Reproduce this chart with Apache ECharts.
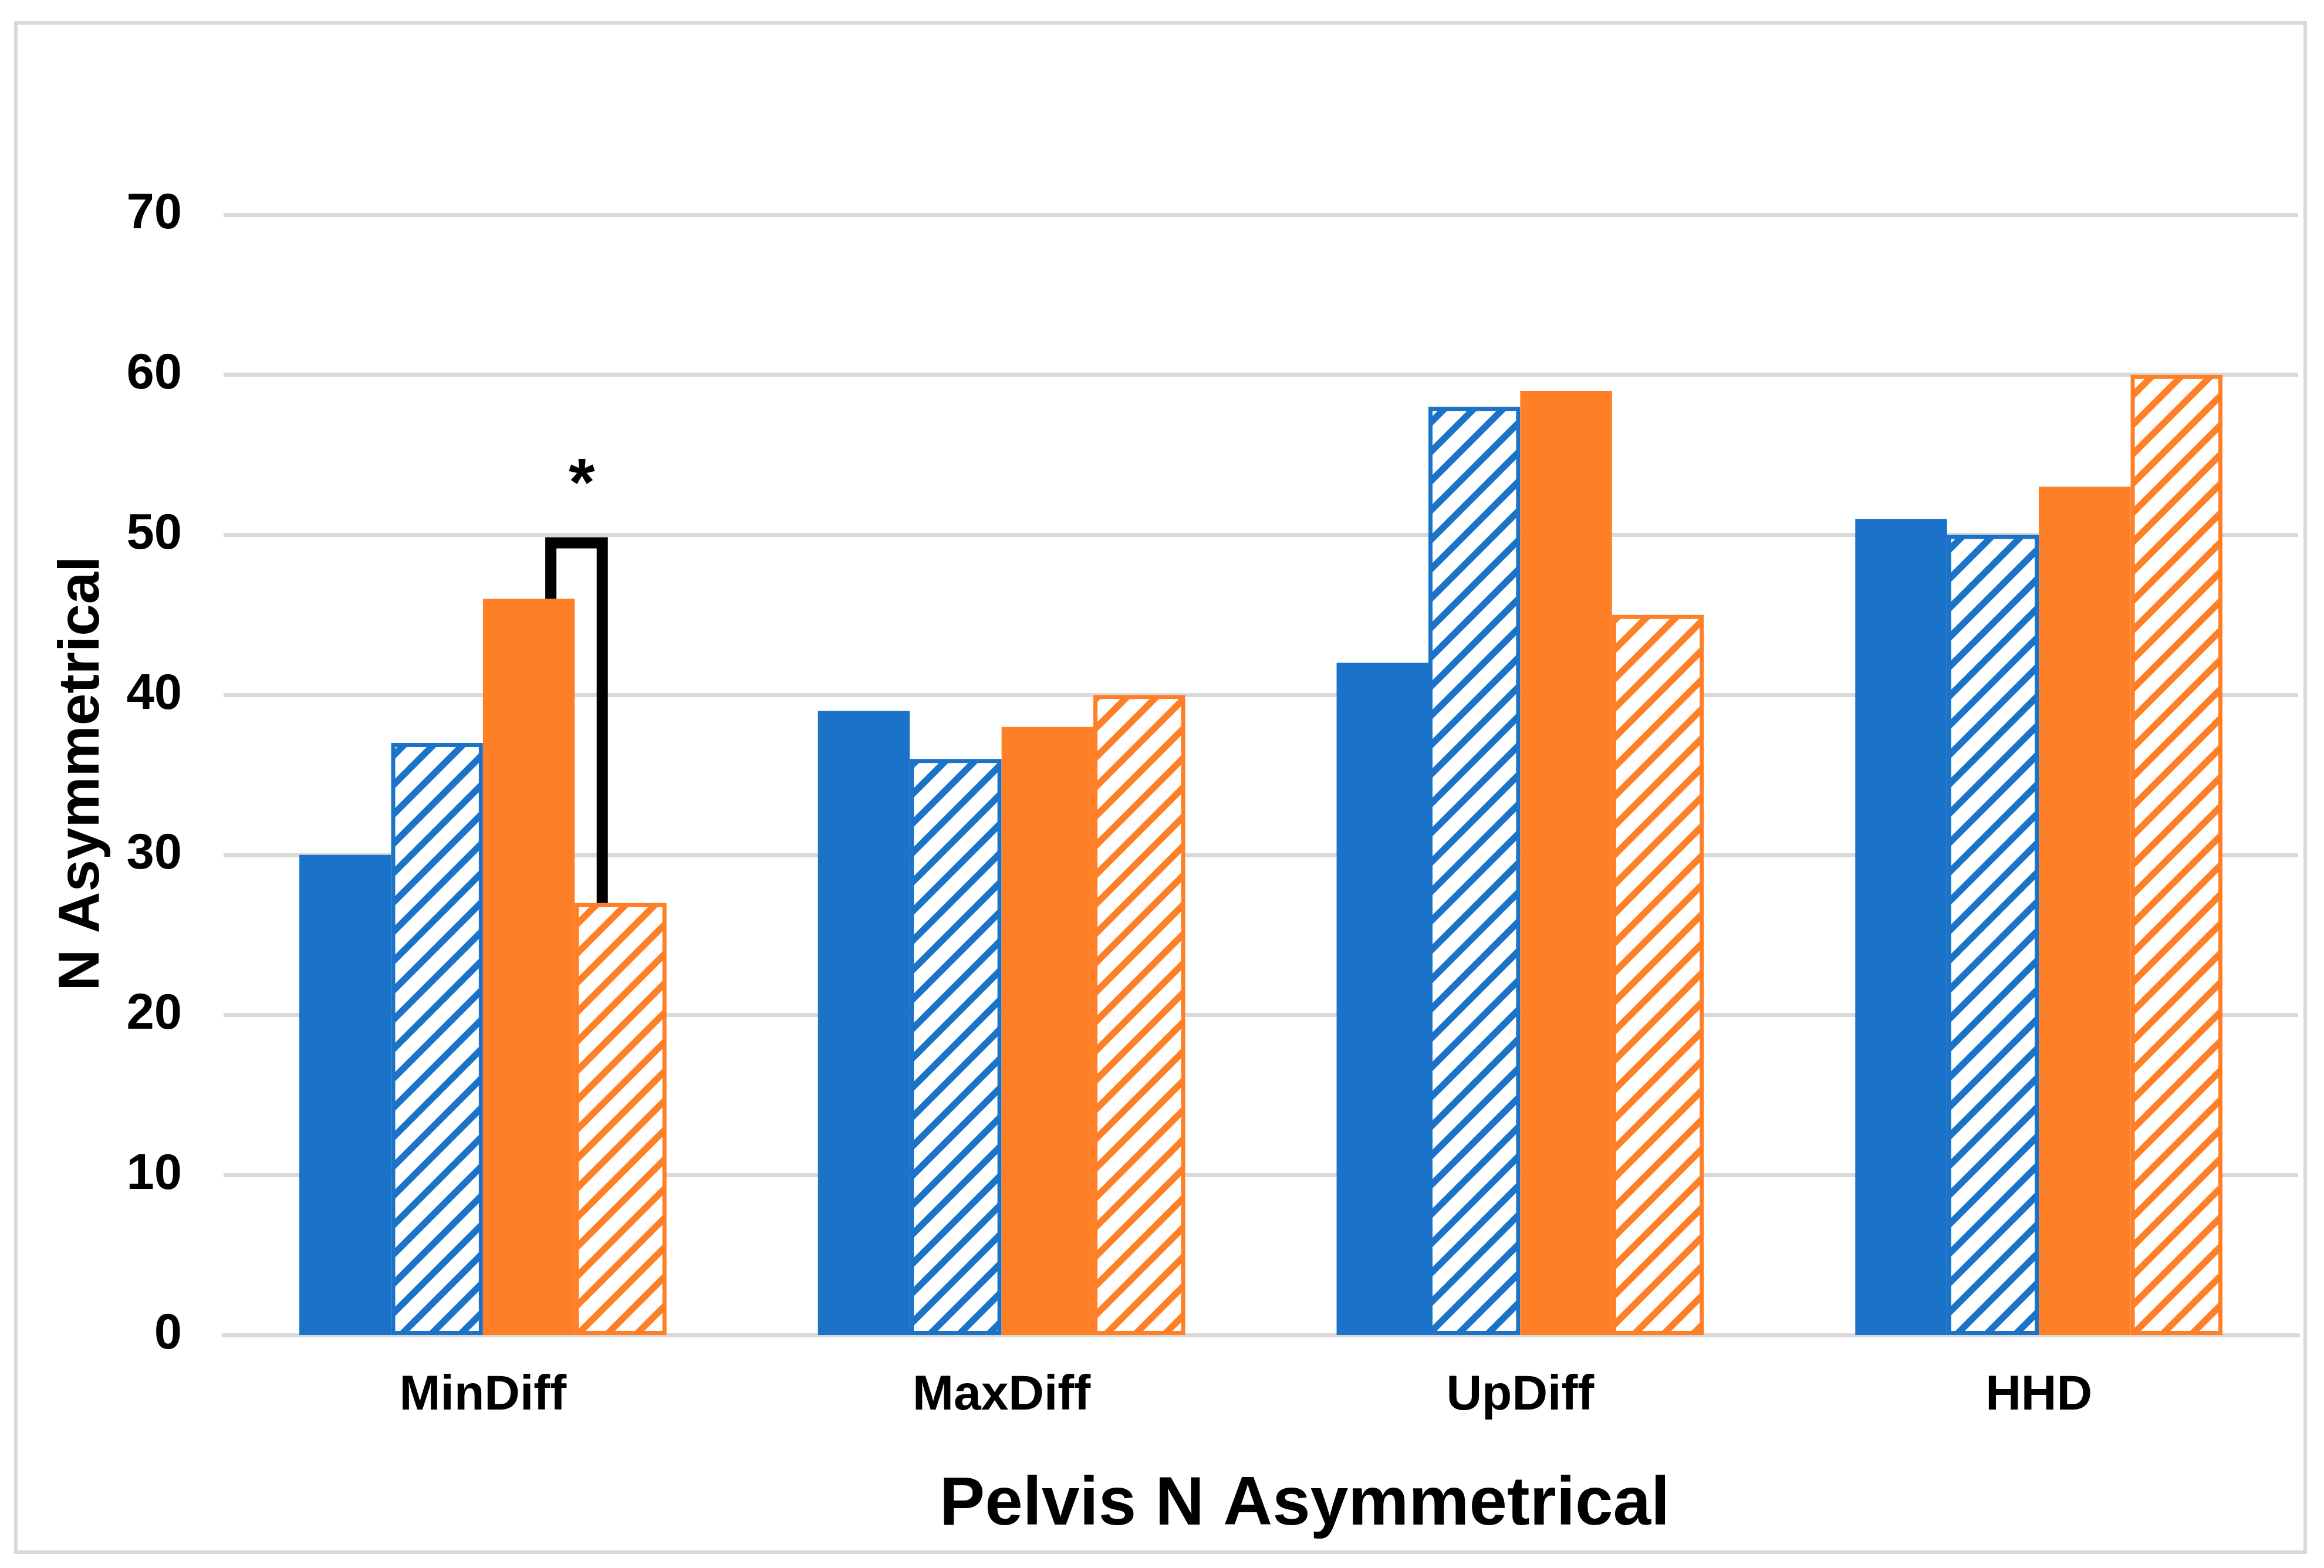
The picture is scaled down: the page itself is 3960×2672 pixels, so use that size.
<!DOCTYPE html>
<html>
<head>
<meta charset="utf-8">
<script src="https://cdn.jsdelivr.net/npm/echarts@6/dist/echarts.min.js"></script>
<style>
html, body { margin: 0; padding: 0; background: #ffffff; }
#chart { width: 3960px; height: 2672px; }
</style>
</head>
<body>
<div id="chart"></div>
<script>
// ---- data ----
const categories = ['MinDiff', 'MaxDiff', 'UpDiff', 'HHD'];
const blueSolid = [30, 39, 42, 51];
const blueHatched = [37, 36, 58, 50];
const orangeSolid = [46, 38, 59, 53];
const orangeHatched = [27, 40, 45, 60];
const yMin = 0, yMax = 70, yInterval = 10;
const xTitle = 'Pelvis N Asymmetrical';
const yTitle = 'N Asymmetrical';
// significance bracket: category index, from series 2 (top 46) to series 3 (top 27)
const bracketCategory = 0;
const bracketFromSeries = 2;
const bracketToSeries = 3;
const bracketFromValue = 46;
const bracketTopValue = 49.5;
const bracketToValue = 27;
const bracketLabel = '*';
const bracketLabelValue = 53;

// ---- styles ----
const BLUE = '#1a73c8';
const ORANGE = '#ff7f27';
const GRID_GREY = '#d9d9d9';
const FONT = '"Liberation Sans", Arial, sans-serif';
const BAR_PCT = 0.177;

function hatch(color) {
  const s = 50, t = 16;
  const c = document.createElement('canvas');
  c.width = s; c.height = s;
  const g = c.getContext('2d');
  g.fillStyle = '#ffffff';
  g.fillRect(0, 0, s, s);
  g.fillStyle = color;
  [0, 50, 100].forEach(function (k) {
    g.beginPath();
    g.moveTo(k, 0);
    g.lineTo(k + t, 0);
    g.lineTo(0, k + t);
    g.lineTo(0, k);
    g.closePath();
    g.fill();
  });
  return c;
}

const chart = echarts.init(document.getElementById('chart'), null, { renderer: 'canvas' });

function barSeries(name, data, color, hatched) {
  return {
    name: name,
    type: 'bar',
    data: data,
    barWidth: (BAR_PCT * 100) + '%',
    barGap: '0%',
    silent: true,
    itemStyle: hatched ? {
      color: { image: hatch(color), repeat: 'repeat' },
      borderColor: color,
      borderWidth: 7
    } : { color: color }
  };
}

const option = {
  animation: false,
  backgroundColor: '#ffffff',
  grid: { left: 381, right: 44, top: 366, bottom: 397 },
  xAxis: {
    type: 'category',
    data: categories,
    axisLine: { show: true, lineStyle: { color: GRID_GREY, width: 7 } },
    axisTick: { show: false },
    axisLabel: { color: '#000', fontSize: 84, fontWeight: 'bold', fontFamily: FONT, margin: 62 }
  },
  yAxis: {
    type: 'value',
    min: yMin, max: yMax, interval: yInterval,
    axisLine: { show: false },
    axisTick: { show: false },
    splitLine: { show: true, lineStyle: { color: GRID_GREY, width: 7 } },
    axisLabel: { color: '#000', fontSize: 85, fontWeight: 'bold', fontFamily: FONT, margin: 71 }
  },
  series: [
    barSeries('Blue', blueSolid, BLUE, false),
    barSeries('Blue hatched', blueHatched, BLUE, true),
    barSeries('Orange', orangeSolid, ORANGE, false),
    barSeries('Orange hatched', orangeHatched, ORANGE, true),
    {
      type: 'custom',
      silent: true,
      z: 10,
      data: [[bracketCategory]],
      renderItem: function (params, api) {
        const cat = api.value(0);
        const cx = api.coord([cat, 0])[0];
        const band = api.size([1, 0])[0];
        const w = band * BAR_PCT;
        const c1 = cx + (bracketFromSeries - 1.5) * w;
        const c2 = cx + (bracketToSeries - 1.5) * w;
        const x1 = c1 + 0.24 * w;
        const x2 = c2 - 0.2 * w;
        const yFrom = api.coord([cat, bracketFromValue])[1];
        const yTop = api.coord([cat, bracketTopValue])[1];
        const yTo = api.coord([cat, bracketToValue])[1];
        const yLab = api.coord([cat, bracketLabelValue])[1];
        return {
          type: 'group',
          children: [
            {
              type: 'polyline',
              shape: { points: [[x1, yFrom], [x1, yTop], [x2, yTop], [x2, yTo]] },
              style: { stroke: '#000', lineWidth: 19, fill: null, lineJoin: 'miter', lineCap: 'butt' }
            },
            {
              type: 'text',
              style: {
                text: bracketLabel,
                x: (x1 + x2) / 2 + 9,
                y: yLab,
                align: 'center',
                verticalAlign: 'middle',
                fill: '#000',
                font: 'bold 115px ' + FONT
              }
            }
          ]
        };
      }
    }
  ],
  graphic: [
    {
      type: 'rect',
      silent: true,
      shape: { x: 27, y: 39, width: 3901, height: 2606 },
      style: { fill: null, stroke: GRID_GREY, lineWidth: 6 }
    },
    {
      type: 'text',
      silent: true,
      x: 2223, y: 2566,
      style: {
        text: xTitle, align: 'center', verticalAlign: 'middle',
        fill: '#000', font: 'bold 116px ' + FONT
      }
    },
    {
      type: 'text',
      silent: true,
      x: 141, y: 1318,
      rotation: Math.PI / 2,
      style: {
        text: yTitle, align: 'center', verticalAlign: 'middle',
        fill: '#000', font: 'bold 98px ' + FONT
      }
    }
  ]
};
chart.setOption(option);
</script>
</body>
</html>
